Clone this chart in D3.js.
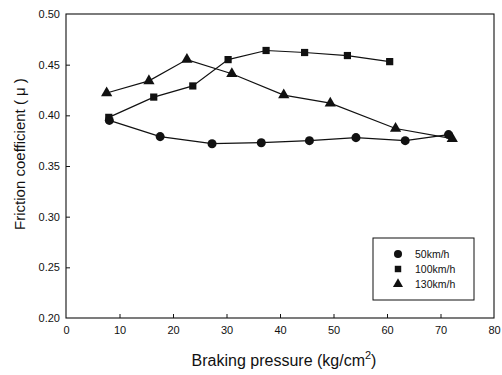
<!DOCTYPE html>
<html>
<head>
<meta charset="utf-8">
<script src="https://cdn.jsdelivr.net/npm/d3@7"></script>
<style>
  html, body { margin: 0; padding: 0; background: #fff; }
  svg { display: block; font-family: "Liberation Sans", Arial, sans-serif; }
</style>
</head>
<body>
<svg id="chart" width="502" height="375"></svg>
<script>
// Braking pressure (kg/cm²) vs friction coefficient for three speeds
const pressure50 = [8.1, 17.6, 27.3, 36.5, 45.5, 54.2, 63.4, 71.5];
const mu50       = [0.395, 0.379, 0.372, 0.373, 0.375, 0.378, 0.375, 0.381];

const pressure100 = [8.0, 16.4, 23.7, 30.3, 37.4, 44.6, 52.6, 60.5];
const mu100       = [0.398, 0.418, 0.429, 0.455, 0.464, 0.462, 0.459, 0.453];

const pressure130 = [7.6, 15.5, 22.6, 31.0, 40.7, 49.4, 61.6, 72.2];
const mu130       = [0.422, 0.434, 0.455, 0.441, 0.420, 0.412, 0.387, 0.377];

const seriesNames = ["50km/h", "100km/h", "130km/h"];
const xTicks = [0, 10, 20, 30, 40, 50, 60, 70, 80];
const yTicks = [0.20, 0.25, 0.30, 0.35, 0.40, 0.45, 0.50];

const svg = d3.select("#chart");
const plotL = 66, plotR = 494, plotT = 14, plotB = 318;

const x = d3.scaleLinear().domain([0, 80]).range([plotL, plotR]);
const y = d3.scaleLinear().domain([0.20, 0.50]).range([plotB, plotT]);

const ink = "#111";

// frame
svg.append("rect")
  .attr("x", plotL).attr("y", plotT)
  .attr("width", plotR - plotL).attr("height", plotB - plotT)
  .attr("fill", "none").attr("stroke", ink).attr("stroke-width", 1.1);

// axes with inward ticks
const xAxis = svg.append("g")
  .attr("transform", `translate(0,${plotB})`)
  .call(d3.axisBottom(x).tickValues(xTicks).tickSizeInner(-4).tickSizeOuter(0).tickPadding(8));
const yAxis = svg.append("g")
  .attr("transform", `translate(${plotL},0)`)
  .call(d3.axisLeft(y).tickValues(yTicks).tickFormat(d3.format(".2f")).tickSizeInner(-4).tickSizeOuter(0).tickPadding(6));

[xAxis, yAxis].forEach(g => {
  g.select(".domain").remove();
  g.selectAll(".tick line").attr("stroke", ink).attr("stroke-width", 1);
  g.selectAll(".tick text")
    .attr("fill", ink)
    .style("font-size", "11px")
    .style("font-family", "'Liberation Sans', Arial, sans-serif");
});
// the end ticks coincide with the frame
xAxis.selectAll(".tick").filter(d => d === 0 || d === 80).select("line").remove();
yAxis.selectAll(".tick").filter(d => d === 0.20 || d === 0.50).select("line").remove();

// axis titles
svg.append("text")
  .attr("x", 284).attr("y", 366)
  .attr("text-anchor", "middle")
  .attr("fill", ink)
  .style("font-size", "16px")
  .html('Braking pressure (kg/cm<tspan dy="-7" style="font-size:11px">2</tspan><tspan dy="7">)</tspan>');

svg.append("text")
  .attr("transform", `translate(25,154) rotate(-90)`)
  .attr("text-anchor", "middle")
  .attr("fill", ink)
  .style("font-size", "15px")
  .text("Friction coefficient ( μ )");

// series
const series = [
  { name: seriesNames[0], xs: pressure50,  ys: mu50,  shape: d3.symbolCircle,   size: 64 },
  { name: seriesNames[1], xs: pressure100, ys: mu100, shape: d3.symbolSquare,   size: 52 },
  { name: seriesNames[2], xs: pressure130, ys: mu130, shape: d3.symbolTriangle, size: 55 }
];

const line = d3.line().x(d => x(d[0])).y(d => y(d[1]));

series.forEach(s => {
  const pts = s.xs.map((v, i) => [v, s.ys[i]]);
  svg.append("path")
    .attr("d", line(pts))
    .attr("fill", "none")
    .attr("stroke", ink)
    .attr("stroke-width", 1.2);
  svg.append("g").selectAll("path")
    .data(pts)
    .join("path")
    .attr("transform", d => `translate(${x(d[0])},${y(d[1])})`)
    .attr("d", d3.symbol().type(s.shape).size(s.size))
    .attr("fill", ink);
});

// legend
const lg = svg.append("g");
lg.append("rect")
  .attr("x", 373).attr("y", 238).attr("width", 101).attr("height", 62)
  .attr("fill", "#fff").attr("stroke", ink).attr("stroke-width", 1);
series.forEach((s, i) => {
  const cy = 254 + i * 15;
  lg.append("path")
    .attr("transform", `translate(398,${cy})`)
    .attr("d", d3.symbol().type(s.shape).size(s.size * 0.8))
    .attr("fill", ink);
  lg.append("text")
    .attr("x", 415).attr("y", cy + 4)
    .attr("fill", ink)
    .style("font-size", "10.5px")
    .text(s.name);
});
</script>
</body>
</html>
